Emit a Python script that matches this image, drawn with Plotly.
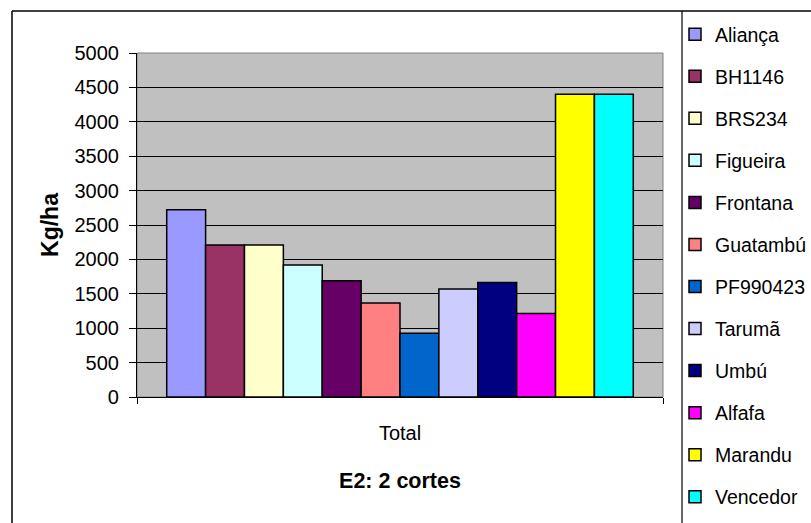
import plotly.graph_objects as go

# Dry-matter yield per cultivar, E2 trial with 2 cuts
cultivars = ["Aliança", "BH1146", "BRS234", "Figueira", "Frontana", "Guatambú",
             "PF990423", "Tarumã", "Umbú", "Alfafa", "Marandu", "Vencedor"]
yields = [2720, 2210, 2210, 1920, 1690, 1365, 925, 1570, 1665, 1215, 4400, 4400]
colors = ["#9999FF", "#993366", "#FFFFCC", "#CCFFFF", "#660066", "#FF8080",
          "#0066CC", "#CCCCFF", "#000080", "#FF00FF", "#FFFF00", "#00FFFF"]
category = ["Total"]
y_ticks = list(range(0, 5001, 500))

FONT = "Liberation Sans, Arial, sans-serif"

fig = go.Figure()
for name, val, col in zip(cultivars, yields, colors):
    fig.add_trace(go.Bar(
        x=category, y=[val], name=name, legendgroup=name,
        marker=dict(color=col, line=dict(color="#000000", width=1.5)),
    ))

# plot-area geometry in pixels
W, H = 811, 523
L, R, T, B = 137, 148, 53, 126
pw, ph = W - L - R, H - T - B


def px_x(x):
    return (x - L) / pw


def px_y(y):
    return (H - B - y) / ph


shapes = [
    # plot-area frame
    dict(type="rect", xref="paper", yref="paper", x0=0, x1=1, y0=0, y1=1,
         line=dict(color="#808080", width=1), layer="below"),
    # chart outer border (top and left edges)
    dict(type="line", xref="paper", yref="paper", x0=px_x(12), x1=px_x(W + 10),
         y0=px_y(11), y1=px_y(11), line=dict(color="#000000", width=1.5)),
    dict(type="line", xref="paper", yref="paper", x0=px_x(12), x1=px_x(12),
         y0=px_y(11), y1=px_y(H + 10), line=dict(color="#000000", width=1.5)),
    # legend box left edge
    dict(type="line", xref="paper", yref="paper", x0=px_x(682), x1=px_x(682),
         y0=px_y(11), y1=px_y(H + 10), line=dict(color="#000000", width=1.2)),
]

fig.update_layout(
    width=W, height=H,
    margin=dict(l=L, r=R, t=T, b=B, autoexpand=False),
    paper_bgcolor="#FFFFFF",
    plot_bgcolor="#C0C0C0",
    barmode="group", bargap=0.113, bargroupgap=0,
    font=dict(family=FONT, size=20, color="#000000"),
    showlegend=True,
    legend=dict(
        x=px_x(675), y=px_y(15), xanchor="left", yanchor="top",
        font=dict(family=FONT, size=19.5, color="#000000"),
        bgcolor="rgba(0,0,0,0)", borderwidth=0,
        traceorder="grouped", tracegroupgap=13.7, maxheight=1,
    ),
    shapes=shapes,
)

fig.update_xaxes(
    type="category", range=[-0.5, 0.5],
    showline=True, linecolor="#000000", linewidth=1.2,
    ticks="outside", tickson="boundaries", ticklen=6, tickcolor="#000000",
    ticklabelstandoff=18,
    showgrid=False,
    title=dict(text="<b>E2: 2 cortes</b>", font=dict(family=FONT, size=21.5), standoff=29),
)

fig.update_yaxes(
    range=[0, 5000], tickvals=y_ticks,
    showline=True, linecolor="#000000", linewidth=1.2,
    ticks="outside", ticklen=7, tickcolor="#000000",
    ticklabelstandoff=6,
    showgrid=True, gridcolor="#000000", gridwidth=1,
    zeroline=False,
    title=dict(text="<b>Kg/ha</b>", font=dict(family=FONT, size=23), standoff=9),
)

fig.write_html("out.html")
